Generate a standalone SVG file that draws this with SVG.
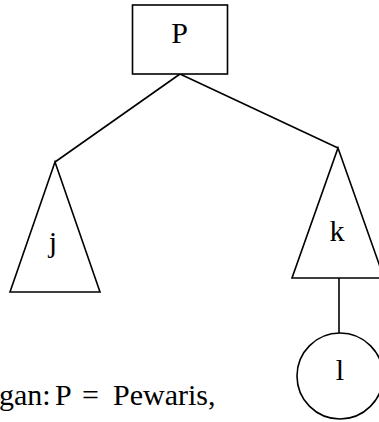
<svg xmlns="http://www.w3.org/2000/svg" width="379" height="422" viewBox="0 0 379 422">
<style>
.s{fill:#fff;stroke:#000;stroke-width:1.6}
.l{fill:none;stroke:#000;stroke-width:1.6}
.t{font-family:"Liberation Serif","Times New Roman",serif;font-size:30px;fill:#000}
.m{text-anchor:middle}
</style>
<rect width="379" height="422" fill="#fff"/>
<g id="connectors">
<line class="l" x1="180" y1="74" x2="55" y2="162"/>
<line class="l" x1="180" y1="74" x2="338" y2="148"/>
<line class="l" x1="339" y1="278" x2="339" y2="333"/>
</g>
<g id="node-P">
<rect class="s" x="132.5" y="5" width="95" height="69"/>
<text class="t m" x="179.5" y="43">P</text>
</g>
<g id="node-j">
<polygon class="s" points="55,162 100,292 10,292"/>
<text class="t m" x="53" y="252">j</text>
</g>
<g id="node-k">
<polygon class="s" points="338,148 384,278 292,278"/>
<text class="t m" x="337" y="241">k</text>
</g>
<g id="node-l">
<circle class="s" cx="340" cy="376" r="43"/>
<text class="t m" x="340" y="380">l</text>
</g>
<g id="caption">
<text class="t" y="405"><tspan x="-1">gan:</tspan><tspan x="55">P</tspan><tspan x="82">=</tspan><tspan x="113">Pewaris,</tspan></text>
</g>
</svg>
